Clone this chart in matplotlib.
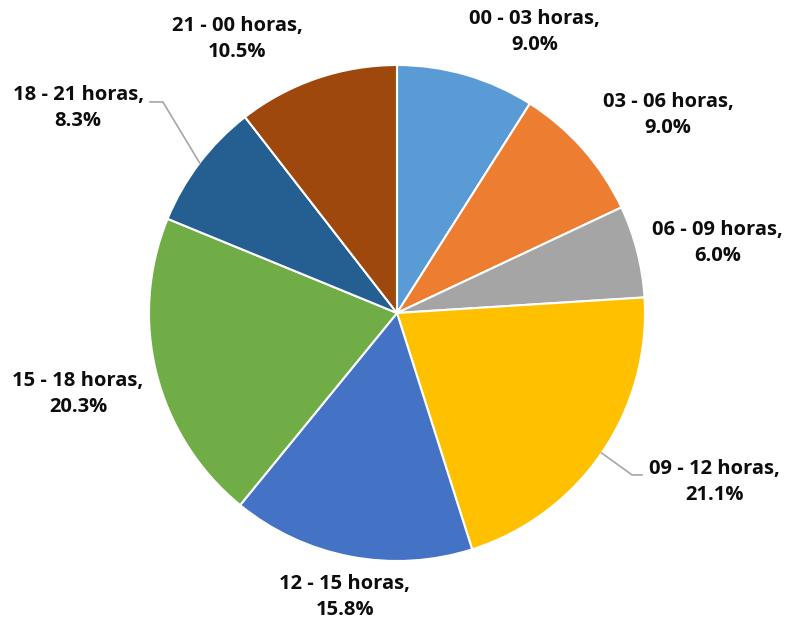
import numpy as np
import matplotlib.pyplot as plt

plt.rcParams['font.family'] = ['Open Sans', 'DejaVu Sans']

franjas = ["00 - 03 horas", "03 - 06 horas", "06 - 09 horas", "09 - 12 horas",
           "12 - 15 horas", "15 - 18 horas", "18 - 21 horas", "21 - 00 horas"]
porcentajes = [9.0, 9.0, 6.0, 21.1, 15.8, 20.3, 8.3, 10.5]
colores = ["#5B9BD5", "#ED7D31", "#A5A5A5", "#FFC000",
           "#4472C4", "#70AD47", "#255E91", "#9E480E"]

W, H = 785, 623
cx, cy, R = 397, 313, 248

fig = plt.figure(figsize=(W / 100, H / 100), dpi=100)
ax = fig.add_axes([(cx - R) / W, (H - cy - R) / H, 2 * R / W, 2 * R / H])

wedges, _ = ax.pie(porcentajes, colors=colores, startangle=90, counterclock=False,
                   radius=1, wedgeprops=dict(edgecolor="white", linewidth=1.5))
ax.set_xlim(-1, 1)
ax.set_ylim(-1, 1)
ax.set_aspect("equal")
ax.axis("off")

# posiciones de las etiquetas (unidades del radio)
pos_etiquetas = [(0.556, 1.133), (1.093, 0.798), (1.294, 0.282), (1.282, -0.681),
                 (-0.210, -1.145), (-1.286, -0.327), (-1.286, 0.827), (-0.645, 1.105)]

for i, (nombre, val) in enumerate(zip(franjas, porcentajes)):
    x, y = pos_etiquetas[i]
    ax.text(x, y, f"{nombre},\n{val:.1f}%", ha="center", va="center",
            fontsize=14.5, fontweight="bold", color="#0D0D0D", linespacing=1.45,
            clip_on=False)

# lineas guia para las etiquetas alejadas
def linea_guia(idx, codo, fin):
    w = wedges[idx]
    ang = np.deg2rad((w.theta1 + w.theta2) / 2)
    px, py = np.cos(ang), np.sin(ang)
    ax.plot([px, codo[0], fin[0]], [py, codo[1], fin[1]], color="#A6A6A6",
            lw=1.2, clip_on=False)

linea_guia(6, (-0.944, 0.851), (-0.996, 0.851))
linea_guia(3, (0.948, -0.653), (0.988, -0.653))

fig.savefig("out.png", dpi=100, facecolor="white")
